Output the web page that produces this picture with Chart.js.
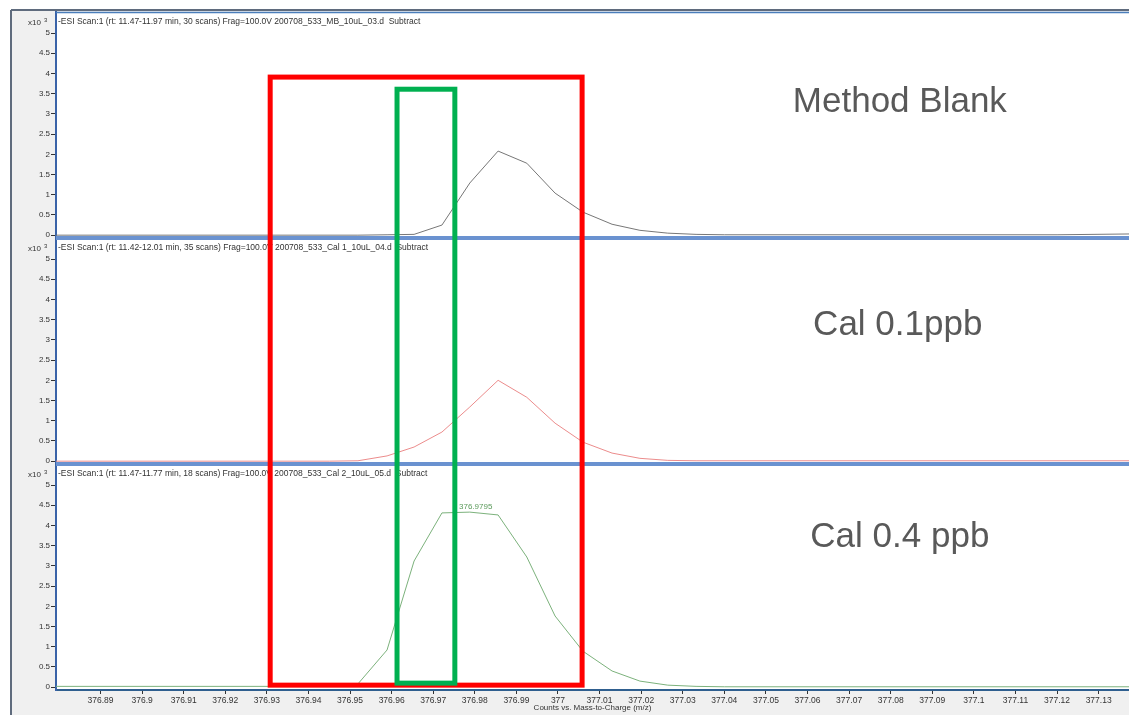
<!DOCTYPE html>
<html>
<head>
<meta charset="utf-8">
<script src="https://cdn.jsdelivr.net/npm/chart.js@4.4.1/dist/chart.umd.min.js"></script>
<style>
  html, body { margin: 0; padding: 0; background: #fff; }
  #wrap { position: relative; width: 1129px; height: 715px; }
</style>
</head>
<body>
<div id="wrap"><canvas id="msChart" width="1129" height="715"></canvas></div>
<script>
// Intensities are in units of x10^3 counts, m/z on the x axis
const mzTicks = [376.89, 376.9, 376.91, 376.92, 376.93, 376.94, 376.95, 376.96, 376.97, 376.98, 376.99, 377,
    377.01, 377.02, 377.03, 377.04, 377.05, 377.06, 377.07, 377.08, 377.09, 377.1, 377.11, 377.12, 377.13];
const countTicks = [0, 0.5, 1, 1.5, 2, 2.5, 3, 3.5, 4, 4.5, 5];

// Method blank
const blankMz = [376.879, 376.9519, 376.9589, 376.9654, 376.9721, 376.9788, 376.9856, 376.9925, 376.9993,
    377.0060, 377.0130, 377.0197, 377.0264, 377.0332, 377.0400, 377.1200, 377.1375];
const blankCounts = [0, 0, 0.01, 0.02, 0.25, 1.29, 2.08, 1.78, 1.04, 0.57, 0.27, 0.12, 0.05, 0.02, 0.01, 0.01, 0.03];

// Cal 0.1 ppb
const cal1Mz = [376.879, 376.9450, 376.9519, 376.9589, 376.9654, 376.9721, 376.9788, 376.9856, 376.9925,
    376.9993, 377.0060, 377.0130, 377.0197, 377.0264, 377.0332, 377.1375];
const cal1Counts = [0, 0, 0.01, 0.13, 0.35, 0.72, 1.34, 2.0, 1.58, 0.94, 0.47, 0.2, 0.07, 0.02, 0.01, 0.01];

// Cal 0.4 ppb
const cal2Mz = [376.879, 376.9450, 376.9519, 376.9589, 376.9654, 376.9721, 376.9788, 376.9856, 376.9925,
    376.9993, 377.0060, 377.0130, 377.0197, 377.0264, 377.0332, 377.0400, 377.1375];
const cal2Counts = [0.02, 0.02, 0.08, 0.92, 3.12, 4.31, 4.33, 4.26, 3.22, 1.76, 0.89, 0.40, 0.15, 0.05, 0.02, 0.01, 0.01];

const scanHeaders = [
    '-ESI Scan:1 (rt: 11.47-11.97 min, 30 scans) Frag=100.0V 200708_533_MB_10uL_03.d  Subtract',
    '-ESI Scan:1 (rt: 11.42-12.01 min, 35 scans) Frag=100.0V 200708_533_Cal 1_10uL_04.d  Subtract',
    '-ESI Scan:1 (rt: 11.47-11.77 min, 18 scans) Frag=100.0V 200708_533_Cal 2_10uL_05.d  Subtract'
];
const sampleNames = ['Method Blank', 'Cal 0.1ppb', 'Cal 0.4 ppb'];
const namePos = [[377.0822, 3.29], [377.0817, 3.37], [377.0822, 3.71]];
const peakLabel = { text: '376.9795', mz: 376.9795, counts: 4.33 };

// highlight boxes: [mzLeft, mzRight, top (panel 1 units), bottom (panel 3 units)]
const redBox = [376.9308, 377.0058, 3.91, 0.05];
const greenBox = [376.9613, 376.9752, 3.61, 0.10];

const panelIds = ['y1', 'y2', 'y3'];
const fontFam = '"Liberation Sans", Arial, sans-serif';

const toPoints = (mz, counts) => mz.map((x, i) => ({ x: x, y: counts[i] }));

const yScale = (weight) => ({
    type: 'linear',
    position: 'left',
    stack: 'ms',
    stackWeight: 1,
    weight: weight,
    min: -0.07,
    max: 5.52,
    afterBuildTicks: s => { s.ticks = countTicks.map(v => ({ value: v })); },
    afterFit: s => { s.width = 45; },
    grid: { drawOnChartArea: false, tickLength: 5, color: '#333', tickWidth: 1 },
    border: { color: '#3a63a8', width: 2 },
    ticks: {
        autoSkip: false,
        padding: 1,
        color: '#333',
        font: { family: fontFam, size: 8 },
        callback: v => String(v)
    }
});

const decor = {
    id: 'decor',
    beforeDraw(chart) {
        const ctx = chart.ctx;
        const a = chart.chartArea;
        ctx.save();
        ctx.fillStyle = '#fff';
        ctx.fillRect(0, 0, chart.width, chart.height);
        ctx.fillStyle = '#f0f0f0';
        ctx.fillRect(11, 10, chart.width - 11, chart.height - 10);
        ctx.strokeStyle = '#5f6b7d';
        ctx.lineWidth = 2;
        ctx.beginPath();
        ctx.moveTo(11, 10); ctx.lineTo(chart.width, 10);
        ctx.moveTo(11, 10); ctx.lineTo(11, chart.height);
        ctx.stroke();
        ctx.fillStyle = '#fff';
        ctx.fillRect(a.left, a.top, a.right - a.left, a.bottom - a.top);
        ctx.restore();
    },
    beforeDatasetsDraw(chart) {
        const ctx = chart.ctx;
        const a = chart.chartArea;
        ctx.save();
        ctx.strokeStyle = '#4a7ebb';
        ctx.lineWidth = 1.5;
        ctx.beginPath();
        ctx.moveTo(a.left, a.top + 0.5); ctx.lineTo(a.right, a.top + 0.5);
        ctx.stroke();
        ctx.strokeStyle = '#6a92d0';
        ctx.lineWidth = 4;
        panelIds.slice(0, 2).forEach(id => {
            const s = chart.scales[id];
            ctx.beginPath();
            ctx.moveTo(a.left, s.bottom); ctx.lineTo(a.right, s.bottom);
            ctx.stroke();
        });
        // scan headers and exponent labels
        ctx.fillStyle = '#333';
        ctx.textBaseline = 'middle';
        panelIds.forEach((id, i) => {
            const s = chart.scales[id];
            const y = s.top + 10;
            ctx.font = '8.5px ' + fontFam;
            ctx.textAlign = 'left';
            ctx.fillText(scanHeaders[i], a.left + 2, y);
            ctx.font = '8px ' + fontFam;
            ctx.fillText('x10', 28, y + 1);
            ctx.font = '6px ' + fontFam;
            ctx.fillText('3', 44, y - 2);
        });
        ctx.restore();
    },
    afterDatasetsDraw(chart) {
        const ctx = chart.ctx;
        const x = chart.scales.x;
        const y1 = chart.scales.y1;
        const y3 = chart.scales.y3;
        ctx.save();
        // sample names
        ctx.fillStyle = '#595959';
        ctx.font = '35px ' + fontFam;
        ctx.textAlign = 'center';
        ctx.textBaseline = 'middle';
        panelIds.forEach((id, i) => {
            ctx.fillText(sampleNames[i], x.getPixelForValue(namePos[i][0]), chart.scales[id].getPixelForValue(namePos[i][1]));
        });
        // peak label
        ctx.fillStyle = '#5a9a5a';
        ctx.font = '8px ' + fontFam;
        ctx.textBaseline = 'bottom';
        ctx.fillText(peakLabel.text, x.getPixelForValue(peakLabel.mz) + 3, y3.getPixelForValue(peakLabel.counts) - 1);
        // highlight boxes
        const box = (b, color) => {
            const l = x.getPixelForValue(b[0]);
            const r = x.getPixelForValue(b[1]);
            const t = y1.getPixelForValue(b[2]);
            const bt = y3.getPixelForValue(b[3]);
            ctx.strokeStyle = color;
            ctx.lineWidth = 5;
            ctx.strokeRect(l, t, r - l, bt - t);
        };
        box(redBox, '#ff0000');
        box(greenBox, '#00b050');
        ctx.restore();
    }
};

new Chart(document.getElementById('msChart'), {
    type: 'line',
    data: {
        datasets: [
            { data: toPoints(blankMz, blankCounts), yAxisID: 'y1', xAxisID: 'x', borderColor: '#777', borderWidth: 1 },
            { data: toPoints(cal1Mz, cal1Counts), yAxisID: 'y2', xAxisID: 'x', borderColor: '#ec8c8c', borderWidth: 1 },
            { data: toPoints(cal2Mz, cal2Counts), yAxisID: 'y3', xAxisID: 'x', borderColor: '#7cb27c', borderWidth: 1 }
        ]
    },
    options: {
        responsive: false,
        animation: false,
        elements: { point: { radius: 0 }, line: { tension: 0 } },
        layout: { padding: { left: 11, top: 12, right: 0, bottom: 0 } },
        scales: {
            x: {
                type: 'linear',
                position: 'bottom',
                min: 376.8793,
                max: 377.1373,
                afterBuildTicks: s => { s.ticks = mzTicks.map(v => ({ value: v })); },
                afterFit: s => { s.height = 25; },
                grid: { drawOnChartArea: false, tickLength: 4, color: '#333' },
                border: { color: '#2f5f8f', width: 2 },
                ticks: {
                    autoSkip: false,
                    maxRotation: 0,
                    padding: 2,
                    color: '#333',
                    font: { family: fontFam, size: 8.5 },
                    callback: v => String(v)
                },
                title: {
                    display: true,
                    text: 'Counts vs. Mass-to-Charge (m/z)',
                    color: '#333',
                    font: { family: fontFam, size: 8 },
                    padding: { top: 0, bottom: 2 }
                }
            },
            y1: yScale(3),
            y2: yScale(2),
            y3: yScale(1)
        },
        plugins: {
            legend: { display: false },
            tooltip: { enabled: false }
        }
    },
    plugins: [decor]
});
</script>
</body>
</html>
